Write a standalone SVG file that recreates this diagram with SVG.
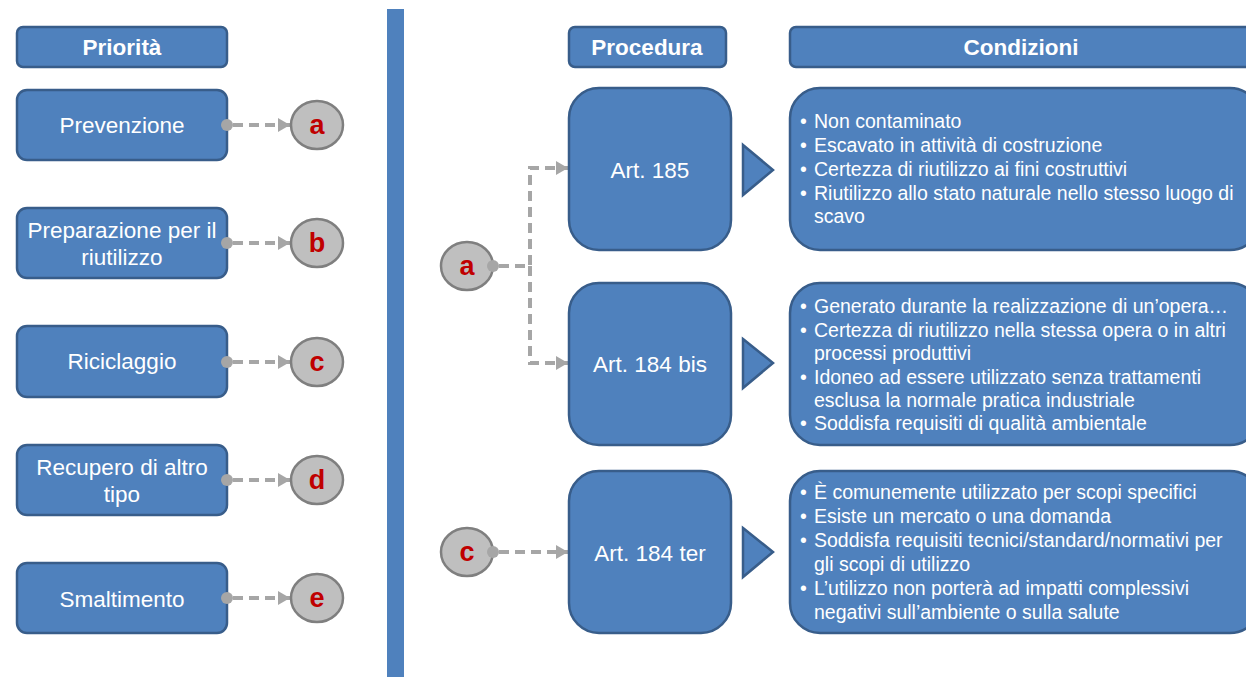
<svg xmlns="http://www.w3.org/2000/svg" width="1246" height="677" viewBox="0 0 1246 677">
<defs>
<style>
.box{fill:#4f81bd;stroke:#385d8a;stroke-width:2.5}
.circ{fill:#bfbfbf;stroke:#7f7f7f;stroke-width:2.5}
.t{font-family:"Liberation Sans",Arial,sans-serif;fill:#ffffff;font-size:22.5px;text-anchor:middle}
.h{font-family:"Liberation Sans",Arial,sans-serif;fill:#ffffff;font-size:22.5px;font-weight:bold;text-anchor:middle}
.l{font-family:"Liberation Sans",Arial,sans-serif;fill:#c00000;font-size:27px;font-weight:bold;text-anchor:middle}
.c{font-family:"Liberation Sans",Arial,sans-serif;fill:#ffffff;font-size:19.5px}
.con{fill:none;stroke:#a6a6a6;stroke-width:4;stroke-dasharray:10 6}
.dot{fill:#a6a6a6}
</style>
<marker id="arr" markerUnits="userSpaceOnUse" markerWidth="14" markerHeight="16" refX="12" refY="8" orient="auto">
<path d="M0,1 L12,8 L0,15 Z" fill="#a6a6a6"/>
</marker>
</defs>
<rect width="1246" height="677" fill="#ffffff"/>
<rect x="387" y="9" width="17" height="668" fill="#4f81bd"/>

<g id="hdr-priorita"><rect class="box" x="17" y="27" width="210" height="40" rx="6"/><text class="h" x="122" y="55">Priorità</text></g>
<g id="hdr-procedura"><rect class="box" x="569" y="27" width="157" height="40" rx="6"/><text class="h" x="647" y="55">Procedura</text></g>
<g id="hdr-condizioni"><rect class="box" x="790" y="27" width="480" height="40" rx="6"/><text class="h" x="1021" y="55">Condizioni</text></g>

<g id="prevenzione"><rect class="box" x="17" y="90" width="210" height="70" rx="10"/><text class="t" x="122" y="133">Prevenzione</text></g>
<g id="preparazione"><rect class="box" x="17" y="208" width="210" height="70" rx="10"/><text class="t" x="122" y="238">Preparazione per il</text><text class="t" x="122" y="265">riutilizzo</text></g>
<g id="riciclaggio"><rect class="box" x="17" y="326" width="210" height="71" rx="10"/><text class="t" x="122" y="369">Riciclaggio</text></g>
<g id="recupero"><rect class="box" x="17" y="445" width="210" height="70" rx="10"/><text class="t" x="122" y="475">Recupero di altro</text><text class="t" x="122" y="502">tipo</text></g>
<g id="smaltimento"><rect class="box" x="17" y="563" width="210" height="70" rx="10"/><text class="t" x="122" y="607">Smaltimento</text></g>

<g id="connectors">
<circle class="dot" cx="227" cy="125" r="6"/><path class="con" d="M233,125 H290" marker-end="url(#arr)"/>
<circle class="dot" cx="227" cy="243" r="6"/><path class="con" d="M233,243 H290" marker-end="url(#arr)"/>
<circle class="dot" cx="227" cy="362" r="6"/><path class="con" d="M233,362 H290" marker-end="url(#arr)"/>
<circle class="dot" cx="227" cy="480" r="6"/><path class="con" d="M233,480 H290" marker-end="url(#arr)"/>
<circle class="dot" cx="227" cy="598" r="6"/><path class="con" d="M233,598 H290" marker-end="url(#arr)"/>
<path class="con" d="M499,266 H530 V168 H568" marker-end="url(#arr)"/>
<path class="con" d="M530,266 V363 H568" marker-end="url(#arr)"/>
<path class="con" d="M499,552 H568" marker-end="url(#arr)"/>
</g>

<g id="circle-a"><ellipse class="circ" cx="317" cy="125" rx="26" ry="24"/><text class="l" x="317" y="134">a</text></g>
<g id="circle-b"><ellipse class="circ" cx="317" cy="243" rx="26" ry="24"/><text class="l" x="317" y="252">b</text></g>
<g id="circle-c"><ellipse class="circ" cx="317" cy="362" rx="26" ry="24"/><text class="l" x="317" y="371">c</text></g>
<g id="circle-d"><ellipse class="circ" cx="317" cy="480" rx="26" ry="24"/><text class="l" x="317" y="489">d</text></g>
<g id="circle-e"><ellipse class="circ" cx="317" cy="598" rx="26" ry="24"/><text class="l" x="317" y="607">e</text></g>

<g id="circle-a2"><ellipse class="circ" cx="467" cy="266" rx="26" ry="24"/><text class="l" x="467" y="275">a</text><circle class="dot" cx="493" cy="266" r="6"/></g>
<g id="circle-c2"><ellipse class="circ" cx="467" cy="552" rx="26" ry="24"/><text class="l" x="467" y="561">c</text><circle class="dot" cx="493" cy="552" r="6"/></g>

<g id="art185"><rect class="box" x="569" y="88" width="162" height="162" rx="30"/><text class="t" x="650" y="178">Art. 185</text></g>
<g id="art184bis"><rect class="box" x="569" y="283" width="162" height="162" rx="30"/><text class="t" x="650" y="372">Art. 184 bis</text></g>
<g id="art184ter"><rect class="box" x="569" y="471" width="162" height="162" rx="30"/><text class="t" x="650" y="561">Art. 184 ter</text></g>

<g id="tri1"><path class="box" d="M743,145 L773,170 L743,195 Z"/></g>
<g id="tri2"><path class="box" d="M743,339 L773,363 L743,388 Z"/></g>
<g id="tri3"><path class="box" d="M743,528 L773,552 L743,577 Z"/></g>

<g id="cond185"><rect class="box" x="790" y="88" width="470" height="162" rx="30"/>
<g class="c">
<text x="800" y="128">•</text><text x="814" y="128">Non contaminato</text>
<text x="800" y="152">•</text><text x="814" y="152">Escavato in attività di costruzione</text>
<text x="800" y="175.5">•</text><text x="814" y="175.5">Certezza di riutilizzo ai fini costruttivi</text>
<text x="800" y="199.5">•</text><text x="814" y="199.5">Riutilizzo allo stato naturale nello stesso luogo di</text>
<text x="814" y="223">scavo</text>
</g></g>

<g id="cond184bis"><rect class="box" x="790" y="283" width="470" height="162" rx="30"/>
<g class="c">
<text x="800" y="313">•</text><text x="814" y="313">Generato durante la realizzazione di un’opera…</text>
<text x="800" y="336.5">•</text><text x="814" y="336.5">Certezza di riutilizzo nella stessa opera o in altri</text>
<text x="814" y="360">processi produttivi</text>
<text x="800" y="383.5">•</text><text x="814" y="383.5">Idoneo ad essere utilizzato senza trattamenti</text>
<text x="814" y="407">esclusa la normale pratica industriale</text>
<text x="800" y="430">•</text><text x="814" y="430">Soddisfa requisiti di qualità ambientale</text>
</g></g>

<g id="cond184ter"><rect class="box" x="790" y="471" width="470" height="162" rx="30"/>
<g class="c">
<text x="800" y="499">•</text><text x="814" y="499">È comunemente utilizzato per scopi specifici</text>
<text x="800" y="523">•</text><text x="814" y="523">Esiste un mercato o una domanda</text>
<text x="800" y="547">•</text><text x="814" y="547">Soddisfa requisiti tecnici/standard/normativi per</text>
<text x="814" y="571">gli scopi di utilizzo</text>
<text x="800" y="595">•</text><text x="814" y="595">L’utilizzo non porterà ad impatti complessivi</text>
<text x="814" y="619">negativi sull’ambiente o sulla salute</text>
</g></g>
</svg>
